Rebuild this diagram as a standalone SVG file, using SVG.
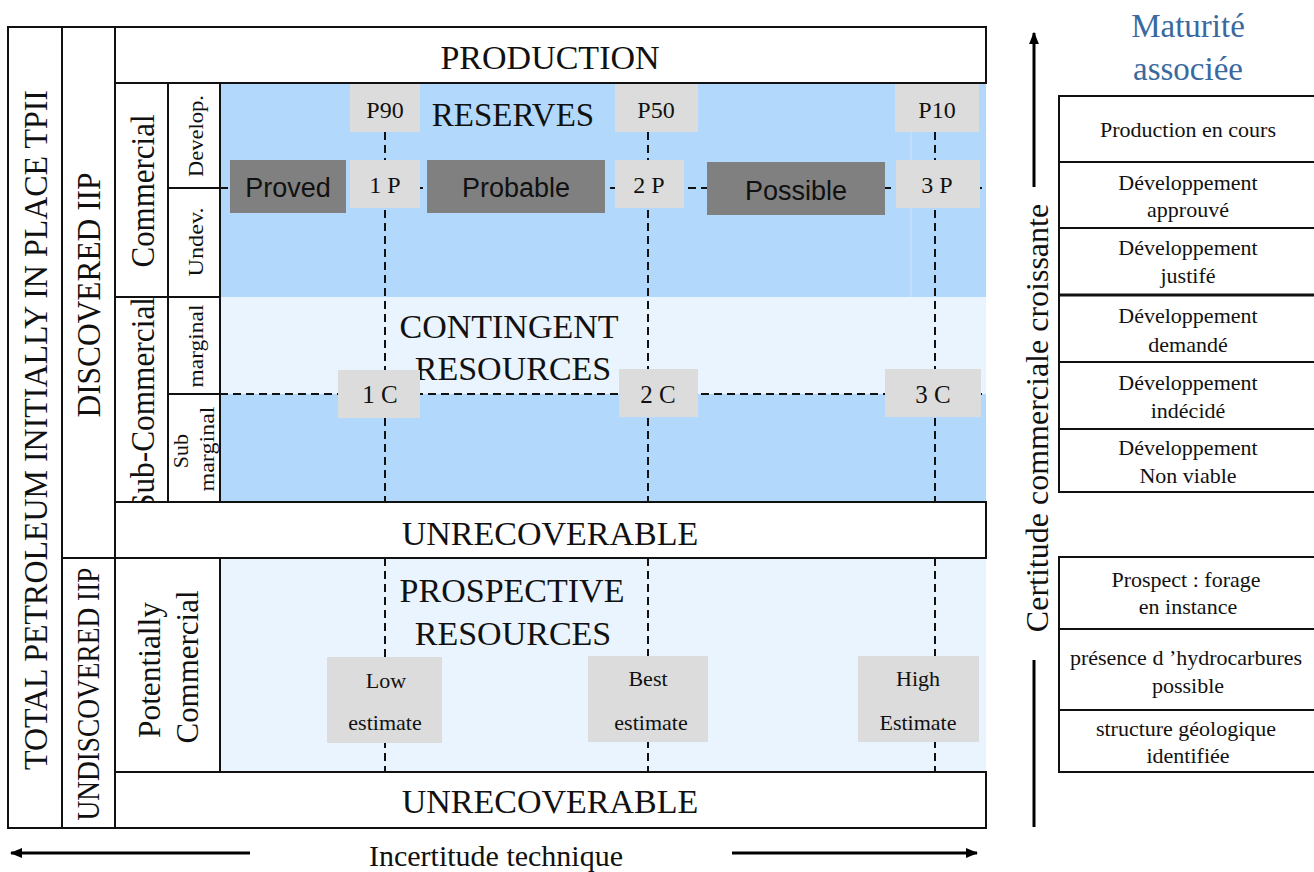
<svg xmlns="http://www.w3.org/2000/svg" width="1314" height="872" viewBox="0 0 1314 872">
<defs>
<style>
.t{font-family:"Liberation Serif","Times New Roman",serif;fill:#111}
.s{font-family:"Liberation Sans",Arial,sans-serif;fill:#111}
.box{fill:#fff;stroke:#111;stroke-width:2}
.arr{fill:none;stroke:#000;stroke-width:3}
.dash{fill:none;stroke:#111;stroke-width:2;stroke-dasharray:8 5}
.lbl{fill:#dcdcdc}
.dk{fill:#808080}
.blue{fill:#b2d8fb}
.lblue{fill:#eaf4fe}
.mat{font-family:"Liberation Serif","Times New Roman",serif;fill:#3a69a0}
</style>
<marker id="ah" viewBox="0 0 10 10" refX="9" refY="5" markerWidth="4.2" markerHeight="4.2" orient="auto-start-reverse" markerUnits="strokeWidth">
<path d="M0,1 L10,5 L0,9 Z" fill="#000"/>
</marker>
</defs>
<rect width="1314" height="872" fill="#fff"/>

<g id="backgrounds">
<rect class="blue" x="220" y="83" width="766" height="214"/>
<line x1="911" y1="130" x2="911" y2="297" stroke="#cfe5fb" stroke-width="1"/>
<rect class="lblue" x="220" y="297" width="766" height="97"/>
<rect class="blue" x="220" y="394" width="766" height="108"/>
<rect class="lblue" x="220" y="558" width="766" height="214"/>
</g>

<g id="connectors">
<line class="dash" x1="220" y1="188" x2="986" y2="188"/>
<line class="dash" x1="168" y1="394" x2="986" y2="394"/>
<line class="dash" x1="385" y1="132" x2="385" y2="502"/>
<line class="dash" x1="648" y1="132" x2="648" y2="502"/>
<line class="dash" x1="935" y1="132" x2="935" y2="502"/>
<line class="dash" x1="385" y1="558" x2="385" y2="772"/>
<line class="dash" x1="648" y1="558" x2="648" y2="772"/>
<line class="dash" x1="935" y1="558" x2="935" y2="772"/>
</g>

<g id="total-tpii">
<rect class="box" x="8" y="27" width="54" height="801"/>
<text class="t" font-size="33" text-anchor="middle" textLength="680" lengthAdjust="spacingAndGlyphs" transform="translate(47,430) rotate(-90)">TOTAL PETROLEUM INITIALLY IN PLACE TPII</text>
</g>
<g id="discovered">
<rect class="box" x="62" y="27" width="53" height="531"/>
<text class="t" font-size="33" text-anchor="middle" textLength="245" lengthAdjust="spacingAndGlyphs" transform="translate(100,295) rotate(-90)">DISCOVERED IIP</text>
</g>
<g id="undiscovered">
<rect class="box" x="62" y="558" width="53" height="270"/>
<text class="t" font-size="32" text-anchor="middle" textLength="253" lengthAdjust="spacingAndGlyphs" transform="translate(99,694) rotate(-90)">UNDISCOVERED IIP</text>
</g>
<g id="production">
<rect class="box" x="115" y="27" width="871" height="56"/>
<text class="t" font-size="34" text-anchor="middle" x="550" y="69">PRODUCTION</text>
</g>
<g id="commercial">
<rect class="box" x="115" y="83" width="53" height="214"/>
<text class="t" font-size="33" text-anchor="middle" textLength="153" lengthAdjust="spacingAndGlyphs" transform="translate(154,191) rotate(-90)">Commercial</text>
</g>
<g id="develop">
<rect class="box" x="168" y="83" width="52" height="105"/>
<text class="t" font-size="22" text-anchor="middle" textLength="82" lengthAdjust="spacingAndGlyphs" transform="translate(203,136) rotate(-90)">Develop.</text>
</g>
<g id="undev">
<rect class="box" x="168" y="188" width="52" height="109"/>
<text class="t" font-size="22" text-anchor="middle" textLength="69" lengthAdjust="spacingAndGlyphs" transform="translate(203,242) rotate(-90)">Undev.</text>
</g>
<g id="sub-commercial">
<rect class="box" x="115" y="297" width="53" height="205"/>
<text class="t" font-size="33" text-anchor="middle" textLength="214" lengthAdjust="spacingAndGlyphs" transform="translate(154,404) rotate(-90)">Sub-Commercial</text>
</g>
<g id="marginal">
<rect class="box" x="168" y="297" width="52" height="97"/>
<text class="t" font-size="22" text-anchor="middle" textLength="83" lengthAdjust="spacingAndGlyphs" transform="translate(203,346) rotate(-90)">marginal</text>
</g>
<g id="sub-marginal">
<rect class="box" x="168" y="394" width="52" height="108"/>
<text class="t" font-size="22" text-anchor="middle" transform="translate(188,451) rotate(-90)">Sub</text>
<text class="t" font-size="22" text-anchor="middle" textLength="85" lengthAdjust="spacingAndGlyphs" transform="translate(214,449) rotate(-90)">marginal</text>
</g>
<g id="unrecoverable-1">
<rect class="box" x="115" y="502" width="871" height="56"/>
<text class="t" font-size="34" text-anchor="middle" x="550" y="545">UNRECOVERABLE</text>
</g>
<g id="potentially-commercial">
<rect class="box" x="115" y="558" width="105" height="214"/>
<text class="t" font-size="31" text-anchor="middle" textLength="136" lengthAdjust="spacingAndGlyphs" transform="translate(160,670) rotate(-90)">Potentially</text>
<text class="t" font-size="31" text-anchor="middle" textLength="153" lengthAdjust="spacingAndGlyphs" transform="translate(198,667) rotate(-90)">Commercial</text>
</g>
<g id="unrecoverable-2">
<rect class="box" x="115" y="772" width="871" height="56"/>
<text class="t" font-size="34" text-anchor="middle" x="550" y="813">UNRECOVERABLE</text>
</g>

<g id="reserves">
<text class="t" font-size="33" text-anchor="middle" x="513" y="126">RESERVES</text>
</g>
<g id="contingent">
<text class="t" font-size="34" text-anchor="middle" x="509" y="338">CONTINGENT</text>
<text class="t" font-size="34" text-anchor="middle" x="513" y="380">RESOURCES</text>
</g>
<g id="prospective">
<text class="t" font-size="34" text-anchor="middle" x="512" y="602">PROSPECTIVE</text>
<text class="t" font-size="34" text-anchor="middle" x="513" y="645">RESOURCES</text>
</g>

<g id="p90"><rect class="lbl" x="350" y="84" width="70" height="48"/><text class="t" font-size="24" text-anchor="middle" x="385" y="118">P90</text></g>
<g id="p50"><rect class="lbl" x="615" y="84" width="83" height="48"/><text class="t" font-size="24" text-anchor="middle" x="656" y="118">P50</text></g>
<g id="p10"><rect class="lbl" x="895" y="84" width="84" height="48"/><text class="t" font-size="24" text-anchor="middle" x="937" y="118">P10</text></g>

<g id="proved"><rect class="dk" x="230" y="160" width="116" height="53"/><text class="s" font-size="27" text-anchor="middle" x="288" y="197">Proved</text></g>
<g id="p1"><rect class="lbl" x="350" y="160" width="70" height="48"/><text class="t" font-size="24" text-anchor="middle" x="385" y="193">1 P</text></g>
<g id="probable"><rect class="dk" x="427" y="160" width="178" height="53"/><text class="s" font-size="27" text-anchor="middle" x="516" y="197">Probable</text></g>
<g id="p2"><rect class="lbl" x="615" y="160" width="69" height="48"/><text class="t" font-size="24" text-anchor="middle" x="649" y="193">2 P</text></g>
<g id="possible"><rect class="dk" x="707" y="162" width="178" height="53"/><text class="s" font-size="27" text-anchor="middle" x="796" y="200">Possible</text></g>
<g id="p3"><rect class="lbl" x="896" y="160" width="84" height="48"/><text class="t" font-size="24" text-anchor="middle" x="937" y="193">3 P</text></g>

<g id="c1"><rect class="lbl" x="338" y="370" width="82" height="48"/><text class="t" font-size="25" text-anchor="middle" x="380" y="403">1 C</text></g>
<g id="c2"><rect class="lbl" x="619" y="369" width="79" height="48"/><text class="t" font-size="25" text-anchor="middle" x="658" y="403">2 C</text></g>
<g id="c3"><rect class="lbl" x="885" y="369" width="96" height="48"/><text class="t" font-size="25" text-anchor="middle" x="933" y="403">3 C</text></g>

<g id="low"><rect class="lbl" x="327" y="657" width="115" height="86"/><text class="t" font-size="22" text-anchor="middle" x="386" y="688">Low</text><text class="t" font-size="22" text-anchor="middle" x="385" y="730">estimate</text></g>
<g id="best"><rect class="lbl" x="588" y="656" width="120" height="86"/><text class="t" font-size="22" text-anchor="middle" x="648" y="686">Best</text><text class="t" font-size="22" text-anchor="middle" x="651" y="730">estimate</text></g>
<g id="high"><rect class="lbl" x="858" y="656" width="121" height="86"/><text class="t" font-size="22" text-anchor="middle" x="918" y="686">High</text><text class="t" font-size="22" text-anchor="middle" x="918" y="730">Estimate</text></g>

<g id="axis-technique">
<line class="arr" x1="250" y1="853" x2="11" y2="853" marker-end="url(#ah)"/>
<line class="arr" x1="732" y1="853" x2="977" y2="853" marker-end="url(#ah)"/>
<text class="t" font-size="30" text-anchor="middle" x="496" y="866">Incertitude technique</text>
</g>

<g id="axis-commerciale">
<line class="arr" x1="1034" y1="187" x2="1034" y2="33" marker-end="url(#ah)"/>
<line class="arr" x1="1034" y1="660" x2="1034" y2="827"/>
<text class="t" font-size="32" text-anchor="middle" transform="translate(1048,418) rotate(-90)">Certitude commerciale croissante</text>
</g>

<g id="maturite-title">
<text class="mat" font-size="33" text-anchor="middle" x="1188" y="37">Maturité</text>
<text class="mat" font-size="33" text-anchor="middle" x="1188" y="80">associée</text>
</g>
<g id="m-production"><rect class="box" x="1059" y="96" width="270" height="66"/><text class="t" font-size="22" text-anchor="middle" x="1188" y="137">Production en cours</text></g>
<g id="m-approuve"><rect class="box" x="1059" y="162" width="270" height="66"/><text class="t" font-size="22" text-anchor="middle" x="1188" y="190">Développement</text><text class="t" font-size="22" text-anchor="middle" x="1188" y="217">approuvé</text></g>
<g id="m-justifie"><rect class="box" x="1059" y="228" width="270" height="67"/><text class="t" font-size="22" text-anchor="middle" x="1188" y="255">Développement</text><text class="t" font-size="22" text-anchor="middle" x="1188" y="283">justifé</text></g>
<g id="m-demande"><rect class="box" x="1059" y="295" width="270" height="67"/><text class="t" font-size="22" text-anchor="middle" x="1188" y="323">Développement</text><text class="t" font-size="22" text-anchor="middle" x="1188" y="352">demandé</text></g>
<g id="m-indecide"><rect class="box" x="1059" y="362" width="270" height="67"/><text class="t" font-size="22" text-anchor="middle" x="1188" y="390">Développement</text><text class="t" font-size="22" text-anchor="middle" x="1188" y="418">indécidé</text></g>
<g id="m-nonviable"><rect class="box" x="1059" y="429" width="270" height="63"/><text class="t" font-size="22" text-anchor="middle" x="1188" y="455">Développement</text><text class="t" font-size="22" text-anchor="middle" x="1188" y="483">Non viable</text></g>
<line x1="1059" y1="295" x2="1314" y2="295" stroke="#111" stroke-width="3"/>

<g id="m-prospect"><rect class="box" x="1059" y="557" width="270" height="72"/><text class="t" font-size="22" text-anchor="middle" x="1186" y="587">Prospect : forage</text><text class="t" font-size="22" text-anchor="middle" x="1188" y="614">en instance</text></g>
<g id="m-presence"><rect class="box" x="1059" y="629" width="270" height="81"/><text class="t" font-size="22" text-anchor="middle" x="1186" y="665">présence d ’hydrocarbures</text><text class="t" font-size="22" text-anchor="middle" x="1188" y="693">possible</text></g>
<g id="m-structure"><rect class="box" x="1059" y="710" width="270" height="62"/><text class="t" font-size="22" text-anchor="middle" x="1186" y="736">structure géologique</text><text class="t" font-size="22" text-anchor="middle" x="1188" y="763">identifiée</text></g>
</svg>
